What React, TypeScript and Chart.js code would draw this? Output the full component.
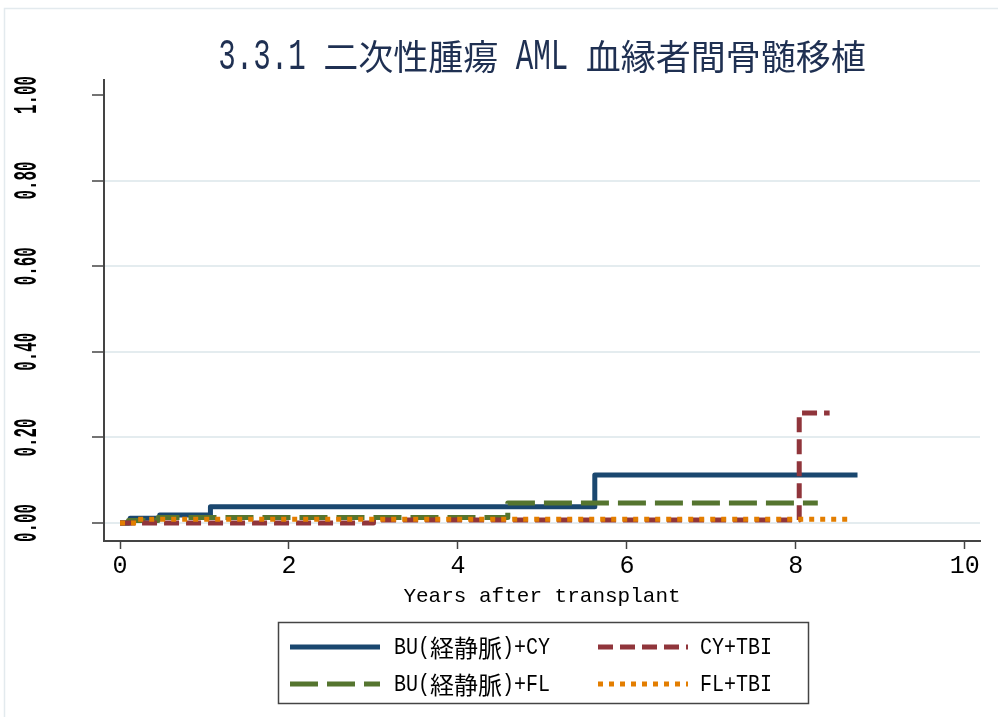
import React, { useEffect, useRef } from "react";
import { Chart, registerables } from "chart.js";

Chart.register(...registerables);

// ---------- data ----------
const TITLE = "3.3.1 二次性腫瘍 AML 血縁者間骨髄移植";
const X_TITLE = "Years after transplant";
const X_TICKS = [0, 2, 4, 6, 8, 10];
const Y_TICKS = [0, 0.2, 0.4, 0.6, 0.8, 1.0];
const Y_TICK_LABELS = ["0.00", "0.20", "0.40", "0.60", "0.80", "1.00"];

const SERIES_LABELS = ["BU(経静脈)+CY", "CY+TBI", "BU(経静脈)+FL", "FL+TBI"];

const BU_CY_T = [0, 0.12, 0.47, 1.07, 5.62, 8.73];
const BU_CY_V = [0, 0.011, 0.019, 0.038, 0.112, 0.112];

const CY_TBI_T = [0, 3.0, 8.04, 8.4];
const CY_TBI_V = [0, 0.007, 0.257, 0.257];

const BU_FL_T = [0, 0.1, 0.45, 4.59, 8.26];
const BU_FL_V = [0, 0.006, 0.013, 0.047, 0.047];

const FL_TBI_T = [0, 0.2, 8.67];
const FL_TBI_V = [0, 0.009, 0.009];

// ---------- styles ----------
const COLORS = ["#1a476f", "#90353b", "#55752f", "#e37e00"];
const DASHES = [[], [15, 7], [28, 9], [5, 6]];
const DRAW_ORDER = [3, 1, 2, 0];
const MONO = "'Liberation Mono', 'Noto Sans CJK JP', monospace";
const CJK = "'Noto Sans CJK JP', sans-serif";

const toPoints = (t: number[], v: number[]) => t.map((x, i) => ({ x, y: v[i] }));

const isFull = (ch: string) => ch.charCodeAt(0) >= 0x2e80;

// draw text on a gothic-like grid: half-width chars take em/2, full-width take em
function drawGothic(
  ctx: CanvasRenderingContext2D,
  text: string,
  x: number,
  y: number,
  em: number,
  latinSize: number,
  align: "left" | "center"
) {
  const chars = Array.from(text);
  const total = chars.reduce((s, c) => s + (isFull(c) ? em : em / 2), 0);
  let cx = align === "center" ? x - total / 2 : x;
  ctx.save();
  ctx.textAlign = "center";
  ctx.textBaseline = "middle";
  for (const c of chars) {
    const adv = isFull(c) ? em : em / 2;
    if (c !== " ") {
      ctx.save();
      ctx.translate(cx + adv / 2, y);
      if (isFull(c)) {
        ctx.font = `${em}px ${CJK}`;
        ctx.fillText(c, 0, 0);
      } else {
        ctx.font = `${latinSize}px 'Liberation Mono', monospace`;
        const s = adv / (0.6 * latinSize);
        ctx.scale(s, 1);
        ctx.fillText(c, 0, 0);
      }
      ctx.restore();
    }
    cx += adv;
  }
  ctx.restore();
}

const overlay = {
  id: "overlay",
  beforeDraw(chart: any) {
    const ctx = chart.ctx;
    ctx.save();
    ctx.fillStyle = "#ffffff";
    ctx.fillRect(0, 0, chart.width, chart.height);
    ctx.strokeStyle = "#e3eaee";
    ctx.lineWidth = 1.5;
    ctx.strokeRect(4.5, 8.5, chart.width + 20, chart.height + 20);
    ctx.restore();
  },
  afterDraw(chart: any) {
    const ctx = chart.ctx;
    const area = chart.chartArea;
    const ys = chart.scales.y;
    ctx.save();
    // title
    ctx.fillStyle = "#1f3052";
    drawGothic(ctx, TITLE, (area.left + area.right) / 2, 57, 35, 44, "center");

    // y tick labels (rotated)
    ctx.fillStyle = "#000";
    ctx.font = `bold 34px 'Liberation Mono', monospace`;
    Y_TICKS.forEach((v, i) => {
      const py = ys.getPixelForValue(v);
      const label = Y_TICK_LABELS[i];
      ctx.save();
      ctx.translate(27, py);
      ctx.rotate(-Math.PI / 2);
      const w = ctx.measureText(label).width;
      ctx.scale(38 / w, 1);
      ctx.textAlign = "center";
      ctx.textBaseline = "middle";
      ctx.fillText(label, 0, 0);
      ctx.restore();
    });

    // x title
    ctx.font = `21px ${MONO}`;
    ctx.fillStyle = "#000";
    ctx.textAlign = "center";
    ctx.textBaseline = "middle";
    ctx.fillText(X_TITLE, (area.left + area.right) / 2, 596);

    // legend
    ctx.strokeStyle = "#444";
    ctx.lineWidth = 1.5;
    ctx.strokeRect(278.5, 622.5, 530, 81);
    const ds = chart.data.datasets;
    ds.forEach((d: any, i: number) => {
      const row = Math.floor(i / 2);
      const col = i % 2;
      const y = row === 0 ? 647 : 684;
      const x0 = col === 0 ? 290 : 598;
      ctx.save();
      ctx.strokeStyle = d.borderColor;
      ctx.lineWidth = 5;
      ctx.lineCap = "butt";
      ctx.setLineDash(d.borderDash || []);
      ctx.beginPath();
      ctx.moveTo(x0, y);
      ctx.lineTo(x0 + 90, y);
      ctx.stroke();
      ctx.restore();
      ctx.fillStyle = "#000";
      drawGothic(ctx, d.label, col === 0 ? 394 : 700, y + 1, 24, 23, "left");
    });
    ctx.restore();
  },
};

// axis geometry (value range of the plot region)
const X_MIN = -0.19;
const X_MAX = 10.18;
const Y_MIN = -0.042;
const Y_MAX = 1.035;

export default function App() {
  const ref = useRef<HTMLCanvasElement | null>(null);
  useEffect(() => {
    document.body.style.margin = "0";
    document.body.style.overflow = "hidden";
    const canvas = ref.current!;
    const seriesT = [BU_CY_T, CY_TBI_T, BU_FL_T, FL_TBI_T];
    const seriesV = [BU_CY_V, CY_TBI_V, BU_FL_V, FL_TBI_V];
    const chart = new Chart(canvas, {
      type: "line",
      data: {
        datasets: SERIES_LABELS.map((label, i) => ({
          label,
          data: toPoints(seriesT[i], seriesV[i]),
          borderColor: COLORS[i],
          backgroundColor: COLORS[i],
          borderWidth: 5,
          borderDash: DASHES[i],
          borderCapStyle: "butt",
          borderJoinStyle: "round",
          stepped: "before",
          pointRadius: 0,
          fill: false,
          order: DRAW_ORDER[i],
        })),
      },
      options: {
        animation: false,
        responsive: false,
        maintainAspectRatio: false,
        layout: { padding: { top: 80, right: 18, left: 0, bottom: 0 } },
        plugins: {
          legend: { display: false },
          title: { display: false },
          tooltip: { enabled: false },
        },
        scales: {
          x: {
            type: "linear",
            min: X_MIN,
            max: X_MAX,
            afterBuildTicks: (s: any) => {
              s.ticks = X_TICKS.map((v) => ({ value: v }));
            },
            afterFit: (s: any) => {
              s.height = 176;
            },
            grid: {
              drawOnChartArea: false,
              drawTicks: true,
              tickLength: 8,
              tickColor: "#444",
              tickWidth: 1.5,
            },
            border: { display: true, color: "#444", width: 2 },
            ticks: {
              color: "#000",
              font: { family: MONO, size: 25 },
              padding: 2,
              maxRotation: 0,
              autoSkip: false,
              callback: (v: any) => String(v),
            },
          },
          y: {
            type: "linear",
            min: Y_MIN,
            max: Y_MAX,
            afterBuildTicks: (s: any) => {
              s.ticks = Y_TICKS.map((v) => ({ value: v }));
            },
            afterFit: (s: any) => {
              s.width = 104;
            },
            grid: {
              color: (c: any) => (c.tick && c.tick.value > 0.9 ? "rgba(0,0,0,0)" : "#e4ecef"),
              lineWidth: 2,
              drawTicks: true,
              tickLength: 12,
              tickColor: "#444",
              tickWidth: 1.5,
            },
            border: { display: true, color: "#444", width: 2 },
            ticks: { display: false },
          },
        },
      },
      plugins: [overlay],
    } as any);
    return () => chart.destroy();
  }, []);
  return <canvas ref={ref} width={998} height={717} style={{ display: "block" }} />;
}
